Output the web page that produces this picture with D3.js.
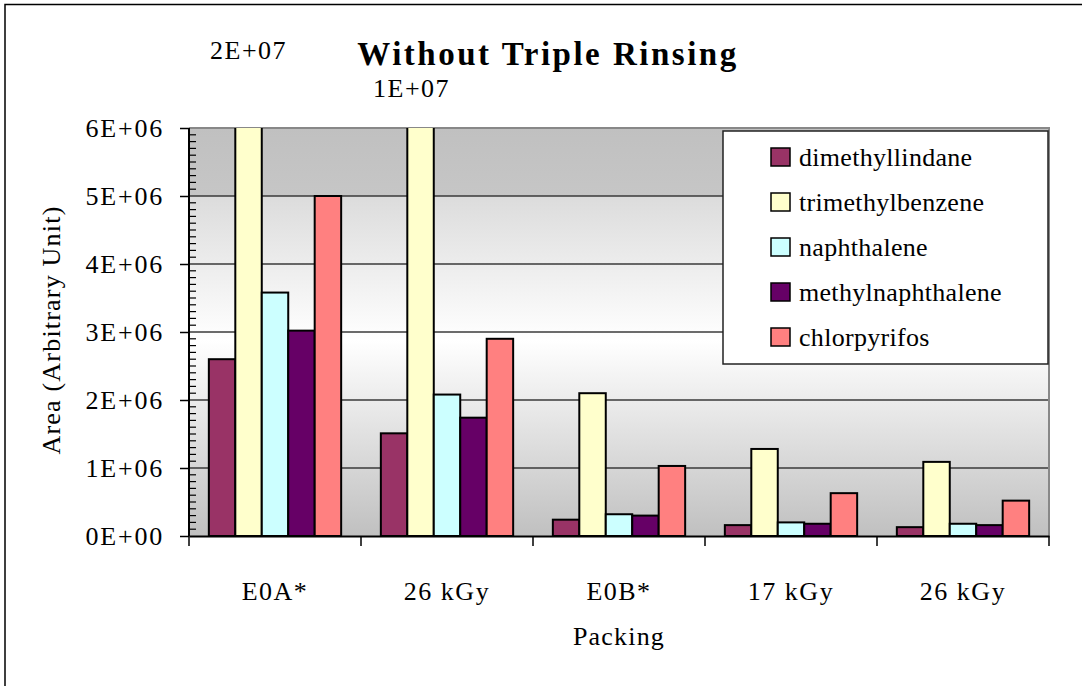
<!DOCTYPE html>
<html><head><meta charset="utf-8">
<script src="https://cdn.jsdelivr.net/npm/d3@7"></script>
<style>
html,body{margin:0;padding:0;background:#fff;}
</style></head>
<body><svg id="c" width="1082" height="686"></svg>
<script>
// ---- data ----
const categories = ["E0A*", "26 kGy", "E0B*", "17 kGy", "26 kGy"];
const seriesNames = ["dimethyllindane", "trimethylbenzene", "naphthalene", "methylnaphthalene", "chlorpyrifos"];
const dimethyllindane   = [2.60e6, 1.51e6, 0.24e6, 0.16e6, 0.13e6];
const trimethylbenzene  = [2e7,    1e7,    2.10e6, 1.28e6, 1.09e6];
const naphthalene       = [3.58e6, 2.08e6, 0.32e6, 0.20e6, 0.18e6];
const methylnaphthalene = [3.02e6, 1.74e6, 0.30e6, 0.18e6, 0.16e6];
const chlorpyrifos      = [5.00e6, 2.90e6, 1.03e6, 0.63e6, 0.52e6];
const yTickValues = [0, 1e6, 2e6, 3e6, 4e6, 5e6, 6e6];
const yTickLabels = ["0E+00", "1E+06", "2E+06", "3E+06", "4E+06", "5E+06", "6E+06"];
const colors = ["#993366", "#FFFFCC", "#CCFFFF", "#660066", "#FF8080"];

const seriesValues = [dimethyllindane, trimethylbenzene, naphthalene, methylnaphthalene, chlorpyrifos];

// ---- layout ----
const FONT = "'Liberation Serif', 'Times New Roman', serif";
const P = {left: 189, right: 1049, top: 128, bottom: 536};
const svg = d3.select("#c");

function fmtExp(v) {
  const s = v.toExponential(0).split("e");
  const e = parseInt(s[1], 10);
  return s[0] + "E" + (e < 0 ? "-" : "+") + String(Math.abs(e)).padStart(2, "0");
}

// outer frame
svg.append("rect").attr("x", 5).attr("y", 4.5).attr("width", 1100).attr("height", 700)
  .attr("fill", "none").attr("stroke", "#000").attr("stroke-width", 1.5);

const x0 = d3.scaleBand().domain(d3.range(categories.length)).range([P.left, P.right]).paddingInner(0).paddingOuter(0);
const side = x0.bandwidth() * 0.75 / 6.5; // excel gap width 150%
const x1 = d3.scaleBand().domain(d3.range(seriesNames.length)).range([side, x0.bandwidth() - side]).padding(0);
const y = d3.scaleLinear().domain([0, 6e6]).range([P.bottom, P.top]);

// background gradient
const defs = svg.append("defs");
const g = defs.append("linearGradient").attr("id", "bg").attr("x1", 0).attr("y1", 0).attr("x2", 0).attr("y2", 1);
[[0, "#c0c0c0"], [0.166, "#c6c6c6"], [0.168, "#dcdcdc"], [0.52, "#ffffff"], [1, "#c0c0c0"]]
  .forEach(([o, c]) => g.append("stop").attr("offset", o).attr("stop-color", c));
defs.append("clipPath").attr("id", "clip").append("rect")
  .attr("x", P.left).attr("y", P.top).attr("width", P.right - P.left).attr("height", P.bottom - P.top);

svg.append("rect").attr("x", P.left).attr("y", P.top).attr("width", P.right - P.left).attr("height", P.bottom - P.top)
  .attr("fill", "url(#bg)");

// gridlines
svg.append("g").selectAll("line").data(yTickValues.slice(1, -1)).join("line")
  .attr("x1", P.left).attr("x2", P.right).attr("y1", d => y(d)).attr("y2", d => y(d))
  .attr("stroke", "#3a3a3a").attr("stroke-width", 1.5);
// plot border top/right
svg.append("path").attr("d", `M${P.left},${P.top}H${P.right}V${P.bottom}`)
  .attr("fill", "none").attr("stroke", "#888").attr("stroke-width", 2);

// bars
const bars = svg.append("g").attr("clip-path", "url(#clip)");
categories.forEach((c, i) => {
  seriesValues.forEach((vals, s) => {
    const v = vals[i];
    const top = Math.max(y(v), P.top - 5);
    bars.append("rect")
      .attr("x", x0(i) + x1(s)).attr("width", x1.bandwidth())
      .attr("y", top).attr("height", P.bottom - top)
      .attr("fill", colors[s]).attr("stroke", "#000").attr("stroke-width", 2);
  });
});

// overflow labels for clipped bars
const overflowLayout = [{dx: 0, y: 59}, {dx: -9, y: 97}];
let k = 0;
categories.forEach((c, i) => {
  seriesValues.forEach((vals, s) => {
    if (vals[i] > 6e6) {
      const L = overflowLayout[k++] || {dx: 0, y: 100};
      svg.append("text").attr("x", x0(i) + x1(s) + x1.bandwidth() / 2 + L.dx).attr("y", L.y)
        .attr("text-anchor", "middle").attr("font-family", FONT).attr("font-size", 26).attr("letter-spacing", 1.5)
        .text(fmtExp(vals[i]));
    }
  });
});

// y axis
const yAxis = d3.axisLeft(y).tickValues(yTickValues).tickFormat((d, i) => yTickLabels[i]).tickSize(9).tickPadding(16);
const ya = svg.append("g").attr("transform", `translate(${P.left},0)`).call(yAxis);
ya.select(".domain").attr("stroke", "#000").attr("stroke-width", 2).attr("d", `M0,${P.top}V${P.bottom}`);
ya.selectAll(".tick line").attr("stroke", "#000").attr("stroke-width", 1.5);
ya.selectAll(".tick text").attr("font-size", 26).attr("letter-spacing", 1.8)
  .attr("font-family", FONT).attr("fill", "#000");
// minor ticks inside
const minor = d3.range(0, 6e6 + 1, 1e5).filter(v => v % 1e6 !== 0);
svg.append("g").selectAll("line").data(minor).join("line")
  .attr("x1", P.left).attr("x2", P.left + 7).attr("y1", d => y(d)).attr("y2", d => y(d))
  .attr("stroke", "#000").attr("stroke-width", 1.2);

// x axis
const xa = svg.append("g").attr("transform", `translate(0,${P.bottom})`)
  .call(d3.axisBottom(x0).tickSize(0).tickFormat((d) => categories[d]).tickPadding(46));
xa.select(".domain").attr("stroke", "#000").attr("stroke-width", 2);
xa.selectAll(".tick text").attr("font-size", 26).attr("letter-spacing", 1.5)
  .attr("font-family", FONT).attr("fill", "#000");
svg.append("g").selectAll("line").data(d3.range(categories.length + 1)).join("line")
  .attr("x1", d => P.left + d * x0.bandwidth()).attr("x2", d => P.left + d * x0.bandwidth())
  .attr("y1", P.bottom).attr("y2", P.bottom + 10).attr("stroke", "#000").attr("stroke-width", 1.5);

// axis titles
svg.append("text").attr("x", 619).attr("y", 645).attr("text-anchor", "middle").attr("font-family", FONT)
  .attr("font-size", 26).attr("letter-spacing", 1.2).text("Packing");
svg.append("text").attr("transform", "translate(60,330) rotate(-90)").attr("text-anchor", "middle").attr("font-family", FONT)
  .attr("font-size", 26).attr("letter-spacing", 1.2).text("Area (Arbitrary Unit)");

// title
svg.append("text").attr("x", 548).attr("y", 65).attr("text-anchor", "middle").attr("font-family", FONT)
  .attr("font-size", 33).attr("font-weight", "bold").attr("letter-spacing", 2.5).text("Without Triple Rinsing");

// legend
const Lg = {x: 723, y: 131, w: 325, h: 233};
svg.append("rect").attr("x", Lg.x).attr("y", Lg.y).attr("width", Lg.w).attr("height", Lg.h)
  .attr("fill", "#fff").attr("stroke", "#222").attr("stroke-width", 1.5);
const items = svg.append("g").selectAll("g").data(seriesNames).join("g")
  .attr("transform", (d, i) => `translate(${Lg.x + 48},${Lg.y + 26 + i * 45})`);
items.append("rect").attr("x", 0).attr("y", -9).attr("width", 19).attr("height", 18)
  .attr("fill", (d, i) => colors[i]).attr("stroke", "#000").attr("stroke-width", 1.5);
items.append("text").attr("x", 28).attr("y", 9).attr("font-family", FONT).attr("font-size", 26)
  .attr("letter-spacing", 0.3).text(d => d);
</script></body></html>
